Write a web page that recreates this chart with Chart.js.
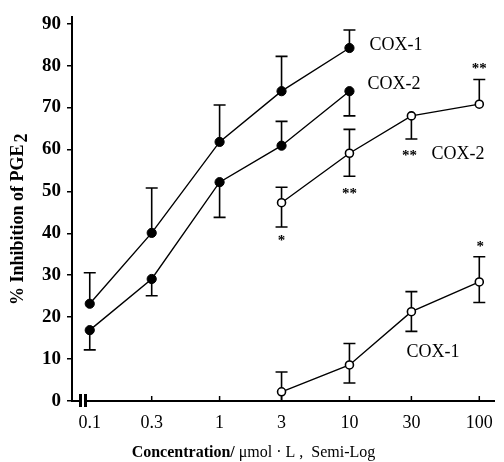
<!DOCTYPE html>
<html><head><meta charset="utf-8">
<script src="https://cdn.jsdelivr.net/npm/chart.js@4.4.0/dist/chart.umd.min.js"></script>
<style>html,body{margin:0;padding:0;background:#fff;}#wrap{width:504px;height:462px;position:relative;}</style>
</head><body><div id="wrap"><canvas id="c" width="504" height="462"></canvas></div>
<script>
// ---- data ----
const concLow = [0.1, 0.3, 1, 3, 10];
const concHigh = [3, 10, 30, 100];
const xTickValues = [0.1, 0.3, 1, 3, 10, 30, 100];
const yTickValues = [0, 10, 20, 30, 40, 50, 60, 70, 80, 90];

const cox1Filled = [23.2, 40.1, 61.8, 73.9, 84.2];
const cox1FilledUpper = [30.6, 50.8, 70.6, 82.2, 88.5];
const cox1FilledLower = [null, null, null, null, null];

const cox2Filled = [16.9, 29.1, 52.2, 60.9, 73.9];
const cox2FilledUpper = [null, null, null, 66.7, null];
const cox2FilledLower = [12.2, 25.1, 43.8, null, 68.0];

const cox2Open = [47.3, 59.1, 68.0, 70.8];
const cox2OpenUpper = [51.0, 64.8, null, 76.7];
const cox2OpenLower = [41.5, 53.6, 62.5, null];

const cox1Open = [2.2, 8.6, 21.3, 28.4];
const cox1OpenUpper = [6.9, 13.7, 26.1, 34.4];
const cox1OpenLower = [0, 4.3, 16.6, 23.5];

const SERIF = '"Liberation Serif", "DejaVu Serif", serif';

function pts(xs, ys) { return xs.map((x, i) => ({ x: x, y: ys[i] })); }

function mkSet(label, xs, ys, up, lo, open) {
  return {
    label: label,
    data: pts(xs, ys),
    errUpper: up,
    errLower: lo,
    borderColor: '#000',
    borderWidth: 1.4,
    pointRadius: open ? 4 : 4.6,
    pointBorderWidth: open ? 1.6 : 1,
    pointBackgroundColor: open ? '#fff' : '#000',
    pointBorderColor: '#000',
    tension: 0,
    fill: false
  };
}

const datasets = [
  mkSet('COX-1 (filled)', concLow, cox1Filled, cox1FilledUpper, cox1FilledLower, false),
  mkSet('COX-2 (filled)', concLow, cox2Filled, cox2FilledUpper, cox2FilledLower, false),
  mkSet('COX-2 (open)', concHigh, cox2Open, cox2OpenUpper, cox2OpenLower, true),
  mkSet('COX-1 (open)', concHigh, cox1Open, cox1OpenUpper, cox1OpenLower, true)
];

const errorBars = {
  id: 'errorBars',
  beforeDatasetsDraw(chart) {
    const ctx = chart.ctx, xs = chart.scales.x, ys = chart.scales.y;
    ctx.save();
    ctx.strokeStyle = '#000';
    ctx.lineWidth = 1.6;
    chart.data.datasets.forEach(ds => {
      ds.data.forEach((p, i) => {
        const px = xs.getPixelForValue(p.x);
        const py = ys.getPixelForValue(p.y);
        [ds.errUpper[i], ds.errLower[i]].forEach(v => {
          if (v === null || v === undefined) return;
          const ey = ys.getPixelForValue(v);
          ctx.beginPath();
          ctx.moveTo(px, py); ctx.lineTo(px, ey);
          ctx.moveTo(px - 6, ey); ctx.lineTo(px + 6, ey);
          ctx.stroke();
        });
      });
    });
    ctx.restore();
  }
};

function pix(chart, dsIndex, i) {
  const p = chart.data.datasets[dsIndex].data[i];
  return { x: chart.scales.x.getPixelForValue(p.x), y: chart.scales.y.getPixelForValue(p.y) };
}
function pixY(chart, v) { return chart.scales.y.getPixelForValue(v); }

const decorations = {
  id: 'decorations',
  afterDraw(chart) {
    const ctx = chart.ctx, xs = chart.scales.x, ca = chart.chartArea;
    ctx.save();
    // inward x ticks
    ctx.strokeStyle = '#000';
    ctx.lineWidth = 1.5;
    xTickValues.slice(1).forEach(v => {
      const px = xs.getPixelForValue(v);
      ctx.beginPath(); ctx.moveTo(px, ca.bottom); ctx.lineTo(px, ca.bottom - 5); ctx.stroke();
    });
    // axis break marks
    ctx.fillStyle = '#fff';
    ctx.fillRect(ca.left + 9, ca.bottom - 2, 4, 4);
    ctx.fillStyle = '#000';
    ctx.fillRect(ca.left + 7, ca.bottom - 7, 3, 13);
    ctx.fillRect(ca.left + 12, ca.bottom - 7, 3, 13);

    // series labels
    ctx.fillStyle = '#000';
    ctx.textBaseline = 'middle';
    ctx.textAlign = 'left';
    ctx.font = '18px ' + SERIF;
    let p = pix(chart, 0, 4);
    ctx.fillText('COX-1', p.x + 20, p.y - 3);
    p = pix(chart, 1, 4);
    ctx.fillText('COX-2', p.x + 18, p.y - 7);
    p = pix(chart, 2, 2);
    ctx.fillText('COX-2', p.x + 20, pixY(chart, cox2OpenLower[2]) + 15);
    p = pix(chart, 3, 2);
    ctx.fillText('COX-1', p.x - 5, p.y + 41);

    // significance stars
    ctx.textAlign = 'center';
    ctx.font = 'bold 15px ' + SERIF;
    p = pix(chart, 2, 3);
    ctx.fillText('**', p.x, pixY(chart, cox2OpenUpper[3]) - 10);
    p = pix(chart, 2, 2);
    ctx.fillText('**', p.x - 2, pixY(chart, cox2OpenLower[2]) + 17);
    p = pix(chart, 2, 1);
    ctx.fillText('**', p.x, pixY(chart, cox2OpenLower[1]) + 18);
    p = pix(chart, 2, 0);
    ctx.fillText('*', p.x, pixY(chart, cox2OpenLower[0]) + 14);
    p = pix(chart, 3, 3);
    ctx.fillText('*', p.x + 1, pixY(chart, cox1OpenUpper[3]) - 10);

    // y title
    ctx.save();
    ctx.translate(18, (ca.top + ca.bottom) / 2 + 10);
    ctx.rotate(-Math.PI / 2);
    ctx.font = 'bold 18px ' + SERIF;
    const main = '% Inhibition of PGE';
    const w1 = ctx.measureText(main).width;
    const w2 = ctx.measureText('2').width;
    ctx.textAlign = 'left';
    ctx.textBaseline = 'middle';
    const start = -(w1 + w2 + 2) / 2;
    ctx.fillText(main, start, 0);
    ctx.fillText('2', start + w1 + 2, 4);
    ctx.restore();

    // x title
    ctx.textAlign = 'left';
    ctx.textBaseline = 'middle';
    ctx.font = 'bold 16px ' + SERIF;
    const t1 = 'Concentration/ ';
    const t2 = '\u03bcmol \u00b7 L ,  Semi-Log';
    const a = ctx.measureText(t1).width;
    ctx.font = '16px ' + SERIF;
    const b = ctx.measureText(t2).width;
    const x0 = (ca.left + ca.right) / 2 - 30 - (a + b) / 2;
    ctx.font = 'bold 16px ' + SERIF;
    ctx.fillText(t1, x0, 453);
    ctx.font = '16px ' + SERIF;
    ctx.fillText(t2, x0 + a, 453);
    ctx.restore();
  }
};

new Chart(document.getElementById('c'), {
  type: 'line',
  data: { datasets: datasets },
  options: {
    responsive: false,
    animation: false,
    layout: { padding: { top: 15, right: 2, left: 0, bottom: 0 } },
    plugins: { legend: { display: false }, tooltip: { enabled: false } },
    scales: {
      x: {
        type: 'logarithmic',
        min: 0.073,
        max: 132,
        afterBuildTicks: s => { s.ticks = xTickValues.map(v => ({ value: v })); },
        afterFit: s => { s.height = 61; },
        grid: { display: false, drawTicks: false },
        border: { display: true, color: '#000', width: 2 },
        ticks: {
          autoSkip: false, maxRotation: 0, padding: 11, color: '#000',
          font: { family: SERIF, size: 18 },
          callback: v => String(v)
        }
      },
      y: {
        type: 'linear',
        min: 0,
        max: 91.5,
        afterBuildTicks: s => { s.ticks = yTickValues.map(v => ({ value: v })); },
        afterFit: s => { s.width = 72; },
        grid: { drawOnChartArea: false, drawTicks: true, tickLength: 5, color: '#000', lineWidth: 1.5 },
        border: { display: true, color: '#000', width: 2 },
        ticks: {
          padding: 6, color: '#000',
          font: { family: SERIF, size: 19, weight: 'bold' }
        }
      }
    }
  },
  plugins: [errorBars, decorations]
});
</script>
</body></html>
